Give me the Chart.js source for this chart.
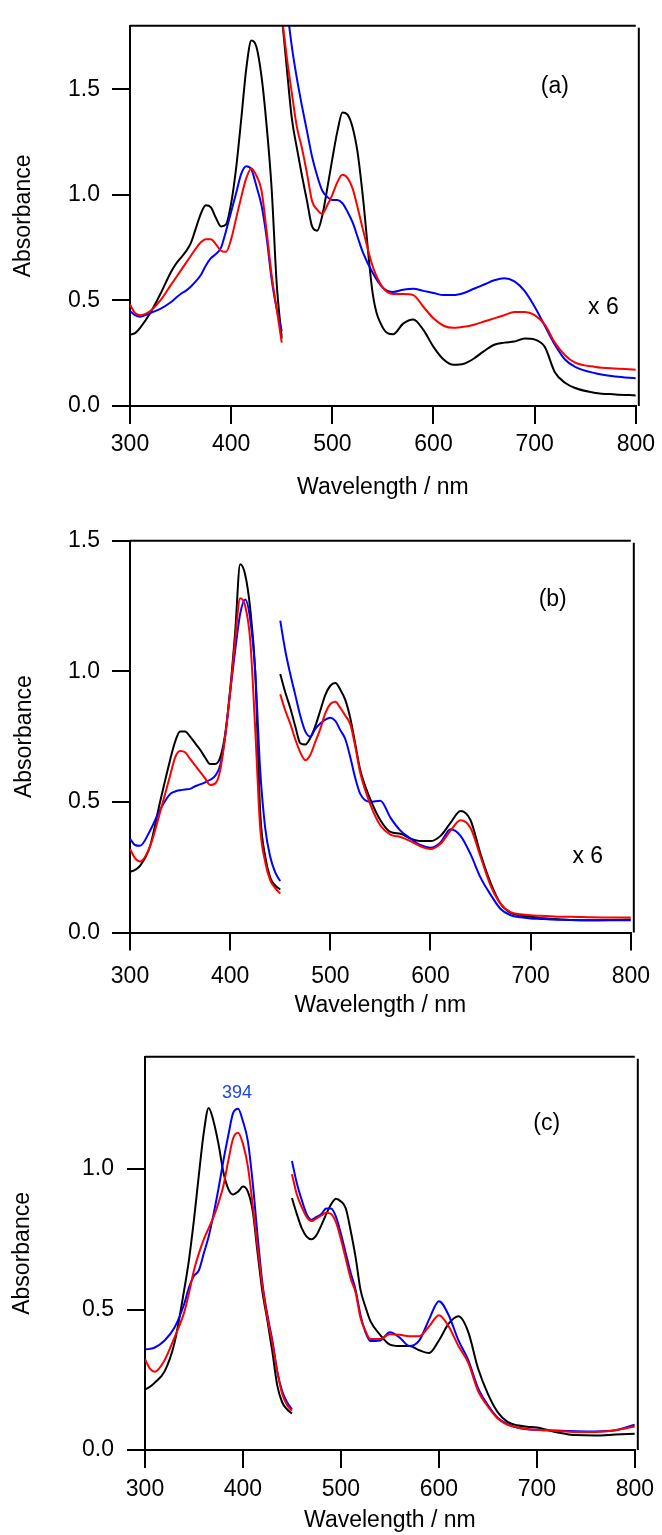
<!DOCTYPE html>
<html>
<head>
<meta charset="utf-8">
<title>Absorption spectra</title>
<script src="https://cdn.jsdelivr.net/npm/chart.js"></script>
<style>
  body { margin: 0; background: #fff; }
  #wrap { position: relative; width: 662px; height: 1535px; }
  canvas { position: absolute; left: 0; }
</style>
</head>
<body>
<div id="wrap">
  <canvas id="chartA" width="662" height="515" style="top:0px"></canvas>
  <canvas id="chartB" width="662" height="515" style="top:515px"></canvas>
  <canvas id="chartC" width="662" height="505" style="top:1030px"></canvas>
</div>
<script>
// wavelength grids (nm): UV part and visible part (visible part shown x 6 in a, b)
const uvNm = [300,305,310,320,330,340,345,350,355,360,365,370,375,380,385,390,395,400,405,410,415,420,425,430,435,440,445,450];
const visNm = [450,455,460,465,470,475,480,485,490,495,500,505,510,515,520,525,530,540,550,560,570,580,590,600,610,620,630,640,650,660,670,680,690,700,710,720,730,740,760,780,800];

// panel (a)
const aBlackUv = [.338,.345,.37,.44,.53,.63,.67,.70,.73,.77,.84,.91,.95,.94,.89,.85,.86,.96,1.13,1.36,1.60,1.73,1.70,1.56,1.33,1.03,.58,.32];
const aRedUv   = [.48,.44,.43,.45,.50,.57,.605,.64,.675,.71,.745,.775,.79,.79,.765,.735,.73,.79,.89,.99,1.08,1.125,1.09,1.02,.83,.62,.46,.30];
const aBlueUv  = [.45,.43,.423,.44,.46,.49,.51,.53,.545,.565,.59,.62,.665,.70,.72,.75,.83,.92,1.01,1.10,1.135,1.12,1.04,.95,.80,.60,.46,.355];
const aBlackVis = [1.85,1.6,1.36,1.22,1.09,.97,.85,.83,.90,1.03,1.17,1.30,1.39,1.38,1.32,1.2,1.0,.53,.37,.34,.39,.41,.36,.28,.22,.195,.20,.225,.26,.29,.30,.305,.32,.315,.28,.16,.11,.085,.062,.055,.05];
const aRedVis   = [1.85,1.65,1.48,1.32,1.22,1.10,.97,.93,.91,.95,1.0,1.06,1.095,1.08,1.03,.94,.84,.66,.56,.53,.53,.525,.47,.415,.38,.37,.375,.385,.40,.415,.43,.445,.445,.43,.385,.30,.24,.205,.185,.177,.172];
const aBlueVis  = [2.15,1.9,1.7,1.55,1.42,1.3,1.18,1.09,1.02,.99,.975,.975,.96,.92,.87,.80,.73,.63,.56,.54,.55,.555,.545,.535,.525,.525,.535,.555,.575,.595,.605,.59,.545,.47,.38,.29,.22,.185,.155,.14,.131];

// panel (b)
const bBlackUv = [.232,.24,.255,.33,.50,.66,.73,.77,.77,.75,.725,.70,.67,.645,.645,.67,.76,.93,1.15,1.41,1.37,1.24,1.00,.46,.29,.21,.18,.165];
const bRedUv   = [.32,.285,.272,.33,.46,.60,.67,.695,.69,.665,.64,.615,.59,.565,.57,.62,.75,.92,1.12,1.28,1.25,1.12,.78,.40,.27,.20,.17,.149];
const bBlueUv  = [.359,.335,.332,.39,.47,.53,.54,.545,.548,.55,.56,.567,.575,.585,.60,.64,.75,.92,1.08,1.22,1.275,1.2,1.0,.62,.40,.29,.23,.197];
const bBlackVis = [.99,.92,.86,.79,.725,.72,.745,.79,.85,.91,.945,.955,.93,.89,.82,.72,.62,.51,.43,.385,.378,.36,.35,.35,.37,.42,.465,.43,.30,.19,.11,.075,.065,.06,.056,.053,.05,.048,.047,.048,.05];
const bRedVis   = [.912,.85,.80,.74,.69,.66,.68,.73,.78,.84,.875,.884,.86,.83,.797,.71,.61,.49,.41,.375,.366,.35,.33,.32,.34,.39,.43,.40,.29,.18,.11,.078,.07,.066,.064,.062,.06,.06,.058,.057,.057];
const bBlueVis  = [1.194,1.08,.99,.91,.83,.77,.75,.78,.80,.815,.822,.81,.775,.74,.67,.59,.53,.50,.505,.44,.39,.36,.335,.325,.345,.395,.37,.30,.21,.145,.09,.066,.058,.054,.052,.05,.049,.048,.047,.047,.047];

// panel (c)
const cBlackUv = [.215,.225,.24,.28,.38,.57,.68,.82,.98,1.13,1.218,1.17,1.09,.99,.93,.91,.92,.938,.92,.85,.70,.56,.46,.35,.23,.17,.145,.13];
const cRedUv   = [.323,.29,.279,.32,.40,.49,.56,.64,.70,.75,.79,.83,.88,.94,1.03,1.11,1.13,1.09,1.01,.87,.72,.58,.47,.38,.28,.20,.16,.14];
const cBlueUv  = [.358,.36,.365,.39,.435,.52,.58,.62,.64,.70,.76,.84,.93,1.03,1.12,1.2,1.215,1.17,1.10,.95,.76,.59,.48,.39,.28,.21,.17,.145];
const cBlackVis = [.897,.84,.79,.76,.75,.765,.80,.84,.875,.895,.885,.86,.78,.686,.57,.51,.46,.41,.375,.37,.37,.355,.345,.39,.45,.476,.42,.29,.20,.135,.10,.088,.083,.08,.072,.063,.057,.053,.052,.055,.058];
const cRedVis   = [.982,.91,.865,.83,.815,.825,.835,.845,.84,.81,.75,.68,.61,.56,.47,.425,.395,.395,.412,.41,.405,.405,.44,.48,.44,.37,.31,.21,.155,.112,.09,.08,.075,.072,.07,.068,.066,.064,.064,.07,.084];
const cBlueVis  = [1.029,.95,.89,.84,.82,.83,.84,.86,.86,.83,.77,.70,.63,.57,.48,.42,.388,.39,.419,.40,.37,.39,.465,.53,.48,.39,.32,.22,.16,.115,.092,.08,.074,.072,.07,.069,.068,.067,.066,.07,.09];

const FONT = "'Liberation Sans', Arial, Helvetica, sans-serif";
const BLACK = 'rgb(0, 0, 0)';
const RED = 'rgb(255, 0, 0)';
const BLUE = 'rgb(0, 0, 255)';

function pts(xs, ys) {
    return xs.map((x, i) => ({ x: x, y: ys[i] }));
}

function line(xs, ys, color) {
    return {
        data: pts(xs, ys),
        borderColor: color,
        borderWidth: 2,
        pointRadius: 0,
        fill: false,
        cubicInterpolationMode: 'monotone'
    };
}

// mirror frame (top + right) and text notes
const framePlugin = {
    id: 'frame',
    afterDraw(chart, args, opts) {
        const ctx = chart.ctx;
        const a = chart.chartArea;
        ctx.save();
        ctx.strokeStyle = '#000';
        ctx.lineWidth = 2;
        ctx.beginPath();
        ctx.moveTo(a.left, a.top);
        ctx.lineTo(a.right, a.top);
        ctx.moveTo(a.right + 3, a.top + 2);
        ctx.lineTo(a.right + 3, a.bottom);
        ctx.stroke();
        ctx.textAlign = 'center';
        ctx.textBaseline = 'middle';
        (opts.notes || []).forEach(n => {
            ctx.font = n.size + 'px ' + FONT;
            ctx.fillStyle = n.color || '#000';
            ctx.fillText(n.text, chart.scales.x.getPixelForValue(n.x), chart.scales.y.getPixelForValue(n.y));
        });
        ctx.restore();
    }
};

function createChart(id, p) {
    const ctx = document.getElementById(id).getContext('2d');
    return new Chart(ctx, {
        type: 'line',
        data: {
            datasets: [
                line(uvNm, p.red[0], RED),
                line(visNm, p.red[1], RED),
                line(uvNm, p.blue[0], p.blueColor || BLUE),
                line(visNm, p.blue[1], p.blueColor || BLUE),
                line(uvNm, p.black[0], BLACK),
                line(visNm, p.black[1], BLACK)
            ]
        },
        plugins: [framePlugin],
        options: {
            responsive: false,
            animation: false,
            devicePixelRatio: 1,
            layout: { padding: { left: 0, top: p.top, right: p.right, bottom: 0 } },
            plugins: {
                legend: { display: false },
                tooltip: { enabled: false },
                frame: { notes: p.notes }
            },
            scales: {
                x: {
                    type: 'linear',
                    min: 300,
                    max: 800,
                    afterFit(s) { s.height = p.xH; },
                    grid: { drawOnChartArea: false, drawTicks: true, tickLength: 18, lineWidth: 2, color: '#000' },
                    border: { display: true, color: '#000', width: 2 },
                    ticks: { stepSize: 100, padding: p.xTickPad, color: '#000', font: { family: FONT, size: 23 }, maxRotation: 0 },
                    title: { display: true, text: 'Wavelength / nm', color: '#000', font: { family: FONT, size: 23 }, padding: { top: 0, bottom: p.xTitlePad } }
                },
                y: {
                    min: 0,
                    max: p.yMax,
                    afterFit(s) { s.width = p.yW; },
                    afterBuildTicks(s) {
                        s.ticks = s.ticks.filter(t => Math.abs(t.value * 2 - Math.round(t.value * 2)) < 1e-6);
                    },
                    grid: { drawOnChartArea: false, drawTicks: true, tickLength: 18, lineWidth: 2, color: '#000' },
                    border: { display: true, color: '#000', width: 2 },
                    ticks: { stepSize: 0.5, padding: p.yTickPad, color: '#000', font: { family: FONT, size: 23 }, callback: v => v.toFixed(1) },
                    title: { display: true, text: 'Absorbance', color: '#000', font: { family: FONT, size: 23 }, padding: { top: p.yTitlePad, bottom: 0 } }
                }
            }
        }
    });
}

createChart('chartA', {
    black: [aBlackUv, aBlackVis], red: [aRedUv, aRedVis], blue: [aBlueUv, aBlueVis],
    yMax: 1.8, top: 15, right: 22, yW: 130, xH: 109,
    xTickPad: 7, xTitlePad: 14, yTickPad: 12, yTitlePad: 10,
    notes: [
        { text: '(a)', x: 720, y: 1.51, size: 23 },
        { text: 'x 6', x: 768, y: 0.466, size: 23 }
    ]
});

createChart('chartB', {
    black: [bBlackUv, bBlackVis], red: [bRedUv, bRedVis], blue: [bBlueUv, bBlueVis],
    yMax: 1.5, top: 17, right: 22, yW: 130, xH: 97.5,
    xTickPad: 12, xTitlePad: 11, yTickPad: 12, yTitlePad: 10.5,
    notes: [
        { text: '(b)', x: 722, y: 1.273, size: 23 },
        { text: 'x 6', x: 757, y: 0.291, size: 23 }
    ]
});

createChart('chartC', {
    black: [cBlackUv, cBlackVis], red: [cRedUv, cRedVis], blue: [cBlueUv, cBlueVis],
    yMax: 1.4, top: 19, right: 22.5, yW: 145, xH: 85,
    xTickPad: 8, xTitlePad: 1, yTickPad: 13, yTitlePad: 8.5,
    notes: [
        { text: '(c)', x: 710, y: 1.161, size: 23 },
        { text: '394', x: 394, y: 1.27, size: 18, color: 'rgb(30, 70, 220)' }
    ]
});
</script>
</body>
</html>
